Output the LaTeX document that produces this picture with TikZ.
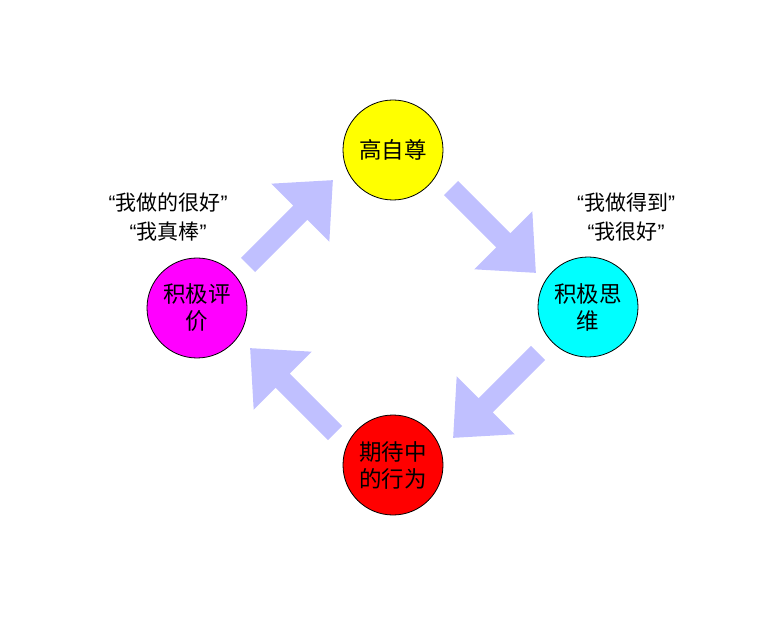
\documentclass[tikz,border=0pt]{standalone}
\usepackage{fontspec}
\setmainfont{Noto Sans CJK SC}
\newfontfamily\qfont{Liberation Sans}
\definecolor{arrowc}{HTML}{C0C0FF}
\definecolor{cyel}{HTML}{FFFF00}
\definecolor{ccya}{HTML}{00FFFF}
\definecolor{cred}{HTML}{FF0000}
\definecolor{cmag}{HTML}{FF00FF}
\newcommand{\oq}{{\qfont “}}
\newcommand{\cq}{{\qfont ”}}
\begin{document}
\begin{tikzpicture}[x=1pt,y=-1pt,
  circ/.style={circle,draw=black,line width=0.8pt,minimum size=100pt,inner sep=0pt,
    align=center,font=\fontsize{22.5}{27}\selectfont},
  quote/.style={align=center,font=\fontsize{21}{29}\selectfont},
  fatarrow/.style={fill=arrowc}]
\useasboundingbox (0,0) rectangle (784,617);
\node[circ,fill=cyel] (top) at (393,150) {高自尊};
\node[circ,fill=ccya] (right) at (588,307) {积极思\\维};
\node[circ,fill=cred] (bottom) at (393,465) {期待中\\的行为};
\node[circ,fill=cmag] (left) at (197,308) {积极评\\价};
\node[quote] (ql) at (168,217) {\oq 我做的很好\cq\\\oq 我真棒\cq};
\node[quote] (qr) at (626,217) {\oq 我做得到\cq\\\oq 我很好\cq};
\coordinate (a1) at (248,265);
\coordinate (a2) at (451,188);
\coordinate (a3) at (538,353);
\coordinate (a4) at (335,433);
\foreach \c/\ang in {a1/45,a2/-45,a3/-135,a4/135}{
  \begin{scope}[shift={(\c)},rotate=\ang]
    \fill[fatarrow] (0,-10) -- (74,-10) -- (74,-41) -- (120,0) -- (74,41) -- (74,10) -- (0,10) -- cycle;
  \end{scope}
}
\end{tikzpicture}
\end{document}
